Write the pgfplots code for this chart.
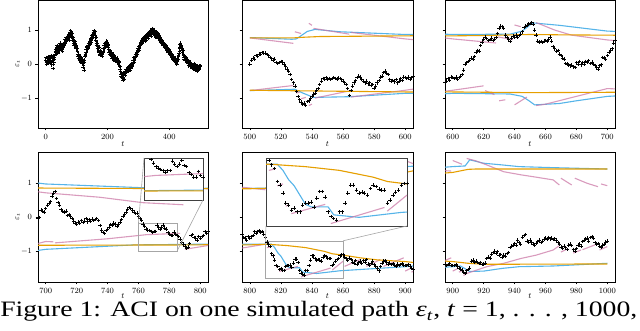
\documentclass[border=0pt]{standalone}
\usepackage{pgfplots}
\pgfplotsset{compat=1.18}
\usepackage{pgfplotstable}
\usepackage{fontspec}
\newfontfamily\capfont{Liberation Serif}
\definecolor{cor}{RGB}{230,159,0}
\definecolor{cbl}{RGB}{86,180,233}
\definecolor{cpk}{RGB}{204,121,167}

\pgfplotstableread[row sep=\\]{t e\\
0 0.12\\ 2 0.05\\ 4 0.18\\ 6 0.10\\ 8 0.02\\ 10 0.14\\ 12 0.08\\ 14 0.20\\ 16 0.12\\ 18 -0.02\\
20 0.10\\ 22 0.22\\ 24 -0.13\\ 26 0.05\\ 28 0.25\\ 30 0.30\\ 32 0.42\\ 34 0.35\\ 36 0.48\\ 38 0.40\\
40 0.52\\ 42 0.36\\ 44 0.55\\ 46 0.62\\ 48 0.50\\ 50 0.58\\ 52 0.45\\ 54 0.38\\ 56 0.52\\ 58 0.48\\
60 0.65\\ 62 0.72\\ 64 0.60\\ 66 0.78\\ 68 0.70\\ 70 0.82\\ 72 0.75\\ 74 0.88\\ 76 0.80\\ 78 0.92\\
80 0.98\\ 82 0.85\\ 84 0.78\\ 86 0.90\\ 88 0.70\\ 90 0.62\\ 92 0.55\\ 94 0.68\\ 96 0.50\\ 98 0.45\\
100 0.55\\ 102 0.38\\ 104 0.30\\ 106 0.18\\ 108 0.25\\ 110 0.10\\ 112 0.15\\ 114 0.05\\ 116 0.20\\ 118 0.08\\
120 -0.10\\ 122 0.02\\ 124 -0.17\\ 126 0.12\\ 128 0.30\\ 130 0.42\\ 132 0.35\\ 134 0.52\\ 136 0.45\\ 138 0.60\\
140 0.55\\ 142 0.68\\ 144 0.62\\ 146 0.75\\ 148 0.70\\ 150 0.85\\ 152 0.78\\ 154 0.92\\ 156 0.98\\ 158 0.88\\
160 0.80\\ 162 0.70\\ 164 0.62\\ 166 0.55\\ 168 0.45\\ 170 0.38\\ 172 0.50\\ 174 0.30\\ 176 0.25\\ 178 0.40\\
180 0.32\\ 182 0.22\\ 184 0.28\\ 186 0.45\\ 188 0.55\\ 190 0.48\\ 192 0.62\\ 194 0.58\\ 196 0.68\\ 198 0.55\\
200 0.62\\ 202 0.50\\ 204 0.42\\ 206 0.30\\ 208 0.38\\ 210 0.25\\ 212 0.32\\ 214 0.18\\ 216 0.28\\ 218 0.22\\
220 0.12\\ 222 0.25\\ 224 0.15\\ 226 0.20\\ 228 0.08\\ 230 0.18\\ 232 0.05\\ 234 0.12\\ 236 -0.02\\ 238 0.08\\
240 -0.15\\ 242 -0.22\\ 244 -0.35\\ 246 -0.28\\ 248 -0.42\\ 250 -0.47\\ 252 -0.38\\ 254 -0.30\\ 256 -0.20\\ 258 -0.32\\
260 -0.15\\ 262 -0.25\\ 264 -0.12\\ 266 -0.20\\ 268 -0.08\\ 270 -0.15\\ 272 -0.05\\ 274 -0.18\\ 276 -0.10\\ 278 0.02\\
280 -0.08\\ 282 0.05\\ 284 0.12\\ 286 0.20\\ 288 0.15\\ 290 0.28\\ 292 0.22\\ 294 0.35\\ 296 0.30\\ 298 0.38\\
300 0.45\\ 302 0.52\\ 304 0.48\\ 306 0.62\\ 308 0.58\\ 310 0.70\\ 312 0.65\\ 314 0.75\\ 316 0.68\\ 318 0.80\\
320 0.72\\ 322 0.78\\ 324 0.70\\ 326 0.82\\ 328 0.88\\ 330 0.80\\ 332 0.75\\ 334 0.85\\ 336 0.92\\ 338 0.88\\
340 0.95\\ 342 0.82\\ 344 1.05\\ 346 0.98\\ 348 0.90\\ 350 1.00\\ 352 0.85\\ 354 0.92\\ 356 0.78\\ 358 0.95\\
360 0.88\\ 362 0.80\\ 364 0.75\\ 366 0.85\\ 368 0.70\\ 370 0.78\\ 372 0.65\\ 374 0.72\\ 376 0.60\\ 378 0.68\\
380 0.55\\ 382 0.62\\ 384 0.50\\ 386 0.58\\ 388 0.45\\ 390 0.52\\ 392 0.40\\ 394 0.48\\ 396 0.35\\ 398 0.42\\
400 0.30\\ 402 0.38\\ 404 0.25\\ 406 0.32\\ 408 0.20\\ 410 0.28\\ 412 0.15\\ 414 0.22\\ 416 0.10\\ 418 0.18\\
420 0.05\\ 422 0.12\\ 424 0.00\\ 426 0.08\\ 428 0.15\\ 430 0.25\\ 432 0.38\\ 434 0.50\\ 436 0.62\\ 438 0.55\\
440 0.45\\ 442 0.35\\ 444 0.40\\ 446 0.25\\ 448 0.15\\ 450 0.20\\ 452 0.10\\ 454 0.18\\ 456 0.05\\ 458 0.12\\
460 0.02\\ 462 -0.05\\ 464 0.08\\ 466 -0.02\\ 468 0.05\\ 470 -0.08\\ 472 0.00\\ 474 -0.12\\ 476 -0.05\\ 478 -0.15\\
480 0.02\\ 482 -0.10\\ 484 -0.18\\ 486 -0.05\\ 488 -0.12\\ 490 -0.20\\ 492 -0.08\\ 494 -0.15\\ 496 -0.05\\ 498 -0.12\\
500 -0.08\\
}\epsA

\pgfplotstableread[row sep=\\]{t e\\
1 0.20\\ 3 0.00\\ 5 0.08\\ 7 0.22\\ 9 0.12\\ 11 0.04\\ 13 0.16\\ 15 0.06\\ 17 0.25\\ 19 0.05\\
21 0.18\\ 23 0.12\\ 25 0.00\\ 27 0.15\\ 29 0.20\\ 31 0.38\\ 33 0.28\\ 35 0.45\\ 37 0.55\\ 39 0.32\\
41 0.45\\ 43 0.48\\ 45 0.42\\ 47 0.55\\ 49 0.40\\ 51 0.50\\ 53 0.55\\ 55 0.45\\ 57 0.60\\ 59 0.55\\
61 0.58\\ 63 0.65\\ 65 0.70\\ 67 0.68\\ 69 0.80\\ 71 0.72\\ 73 0.85\\ 75 0.78\\ 77 0.70\\ 79 0.85\\
81 0.90\\ 83 0.95\\ 85 0.70\\ 87 0.80\\ 89 0.78\\ 91 0.70\\ 93 0.62\\ 95 0.58\\ 97 0.60\\ 99 0.52\\
101 0.45\\ 103 0.45\\ 105 0.22\\ 107 0.28\\ 109 0.15\\ 111 0.20\\ 113 0.08\\ 115 0.12\\ 117 0.02\\ 119 0.15\\
121 0.05\\ 123 -0.05\\ 125 0.05\\ 127 0.22\\ 129 0.25\\ 131 0.35\\ 133 0.48\\ 135 0.42\\ 137 0.55\\ 139 0.50\\
141 0.62\\ 143 0.58\\ 145 0.72\\ 147 0.65\\ 149 0.80\\ 151 0.75\\ 153 0.88\\ 155 0.85\\ 157 0.90\\ 159 0.95\\
161 0.85\\ 163 0.78\\ 165 0.55\\ 167 0.62\\ 169 0.52\\ 171 0.45\\ 173 0.35\\ 175 0.38\\ 177 0.32\\ 179 0.30\\
181 0.25\\ 183 0.30\\ 185 0.38\\ 187 0.35\\ 189 0.45\\ 191 0.55\\ 193 0.52\\ 195 0.65\\ 197 0.60\\ 199 0.65\\
201 0.55\\ 203 0.58\\ 205 0.35\\ 207 0.40\\ 209 0.30\\ 211 0.35\\ 213 0.22\\ 215 0.25\\ 217 0.18\\ 219 0.30\\
221 0.20\\ 223 0.18\\ 225 0.08\\ 227 0.12\\ 229 0.15\\ 231 0.10\\ 233 0.15\\ 235 0.02\\ 237 0.05\\ 239 -0.05\\
241 -0.08\\ 243 -0.30\\ 245 -0.25\\ 247 -0.38\\ 249 -0.35\\ 251 -0.40\\ 253 -0.45\\ 255 -0.25\\ 257 -0.28\\ 259 -0.22\\
261 -0.25\\ 263 -0.18\\ 265 -0.20\\ 267 -0.12\\ 269 -0.18\\ 271 -0.08\\ 273 -0.12\\ 275 -0.08\\ 277 -0.02\\ 279 -0.05\\
281 0.00\\ 283 0.10\\ 285 0.05\\ 287 0.12\\ 289 0.22\\ 291 0.20\\ 293 0.30\\ 295 0.28\\ 297 0.40\\ 299 0.45\\
301 0.40\\ 303 0.45\\ 305 0.55\\ 307 0.55\\ 309 0.65\\ 311 0.62\\ 313 0.72\\ 315 0.70\\ 317 0.78\\ 319 0.75\\
321 0.82\\ 323 0.68\\ 325 0.78\\ 327 0.75\\ 329 0.82\\ 331 0.90\\ 333 0.82\\ 335 0.95\\ 337 0.85\\ 339 0.98\\
341 0.88\\ 343 0.95\\ 345 0.95\\ 347 1.02\\ 349 0.98\\ 351 0.92\\ 353 0.95\\ 355 0.85\\ 357 0.88\\ 359 0.82\\
361 0.78\\ 363 0.88\\ 365 0.82\\ 367 0.75\\ 369 0.78\\ 371 0.68\\ 373 0.72\\ 375 0.62\\ 377 0.70\\ 379 0.58\\
381 0.65\\ 383 0.55\\ 385 0.58\\ 387 0.50\\ 389 0.55\\ 391 0.45\\ 393 0.48\\ 395 0.38\\ 397 0.45\\ 399 0.35\\
401 0.38\\ 403 0.28\\ 405 0.32\\ 407 0.22\\ 409 0.28\\ 411 0.18\\ 413 0.22\\ 415 0.12\\ 417 0.18\\ 419 0.08\\
421 0.12\\ 423 0.02\\ 425 0.08\\ 427 0.18\\ 429 0.22\\ 431 0.32\\ 433 0.45\\ 435 0.58\\ 437 0.52\\ 439 0.48\\
441 0.40\\ 443 0.45\\ 445 0.30\\ 447 0.20\\ 449 0.25\\ 451 0.12\\ 453 0.18\\ 455 0.08\\ 457 0.15\\ 459 0.05\\
461 0.10\\ 463 0.02\\ 465 -0.02\\ 467 0.06\\ 469 -0.05\\ 471 0.02\\ 473 -0.08\\ 475 -0.02\\ 477 -0.12\\ 479 -0.05\\
481 -0.08\\ 483 -0.02\\ 485 -0.10\\ 487 -0.15\\ 489 -0.05\\ 491 -0.10\\ 493 -0.18\\ 495 -0.08\\ 497 -0.14\\ 499 -0.05\\
}\epsAo

\pgfplotstableread[row sep=\\]{t e\\
500 0.00\\ 501 0.12\\ 502 0.18\\ 503 0.15\\ 504 0.25\\ 505 0.22\\ 506 0.30\\ 507 0.28\\ 508 0.34\\ 509 0.32\\
510 0.33\\ 511 0.28\\ 512 0.25\\ 513 0.20\\ 514 0.16\\ 515 0.12\\ 516 0.15\\ 517 0.05\\ 518 0.02\\ 519 0.04\\
520 0.08\\ 521 0.06\\ 522 0.00\\ 523 -0.08\\ 524 -0.15\\ 525 -0.22\\ 526 -0.30\\ 527 -0.45\\ 528 -0.55\\ 529 -0.65\\
530 -0.80\\ 531 -0.95\\ 532 -1.05\\ 533 -1.12\\ 534 -1.18\\ 535 -1.15\\ 536 -1.20\\ 537 -1.10\\ 538 -1.08\\ 539 -1.00\\
540 -0.95\\ 541 -0.88\\ 542 -0.85\\ 543 -0.78\\ 544 -0.72\\ 545 -0.60\\ 546 -0.50\\ 547 -0.42\\ 548 -0.45\\ 549 -0.40\\
550 -0.44\\ 551 -0.42\\ 552 -0.45\\ 553 -0.43\\ 554 -0.40\\ 555 -0.42\\ 556 -0.44\\ 557 -0.41\\ 558 -0.43\\ 559 -0.46\\
560 -0.50\\ 561 -0.55\\ 562 -0.60\\ 563 -0.72\\ 564 -0.93\\ 565 -0.78\\ 566 -0.65\\ 567 -0.55\\ 568 -0.48\\ 569 -0.40\\
570 -0.35\\ 571 -0.38\\ 572 -0.45\\ 573 -0.50\\ 574 -0.55\\ 575 -0.50\\ 576 -0.58\\ 577 -0.55\\ 578 -0.62\\ 579 -0.60\\
580 -0.70\\ 581 -0.65\\ 582 -0.55\\ 583 -0.48\\ 584 -0.38\\ 585 -0.35\\ 586 -0.25\\ 587 -0.20\\ 588 -0.28\\ 589 -0.30\\
590 -0.45\\ 591 -0.50\\ 592 -0.48\\ 593 -0.52\\ 594 -0.45\\ 595 -0.55\\ 596 -0.50\\ 597 -0.42\\ 598 -0.48\\ 599 -0.38\\
600 -0.40\\ 601 -0.42\\ 602 -0.38\\ 603 -0.44\\ 604 -0.40\\ 605 -0.35\\ 606 -0.30\\ 607 -0.18\\ 608 0.00\\ 609 0.05\\
610 0.08\\ 611 0.12\\ 612 0.18\\ 613 0.15\\ 614 0.22\\ 615 0.35\\ 616 0.40\\ 617 0.38\\ 618 0.55\\ 619 0.65\\
620 0.72\\ 621 0.80\\ 622 0.75\\ 623 0.70\\ 624 0.72\\ 625 0.76\\ 626 0.70\\ 627 0.74\\ 628 0.78\\ 629 0.90\\
630 1.05\\ 631 1.12\\ 632 1.10\\ 633 1.05\\ 634 0.85\\ 635 0.78\\ 636 0.72\\ 637 0.66\\ 638 0.75\\ 639 0.82\\
640 0.80\\ 641 0.85\\ 642 0.78\\ 643 0.84\\ 644 0.88\\ 645 0.95\\ 646 1.08\\ 647 1.12\\ 648 1.15\\ 649 1.18\\
650 1.20\\ 651 1.22\\ 652 1.18\\ 653 1.00\\ 654 0.85\\ 655 0.68\\ 656 0.65\\ 657 0.66\\ 658 0.63\\ 659 0.68\\
660 0.70\\ 661 0.66\\ 662 0.72\\ 663 0.80\\ 664 0.68\\ 665 0.52\\ 666 0.45\\ 667 0.38\\ 668 0.40\\ 669 0.30\\
670 0.25\\ 671 0.18\\ 672 0.15\\ 673 0.02\\ 674 0.00\\ 675 -0.02\\ 676 -0.05\\ 677 -0.03\\ 678 -0.08\\ 679 -0.10\\
680 0.05\\ 681 0.00\\ 682 0.08\\ 683 -0.02\\ 684 0.05\\ 685 0.00\\ 686 0.08\\ 687 0.04\\ 688 0.10\\ 689 0.02\\
690 0.06\\ 691 0.00\\ 692 -0.04\\ 693 -0.10\\ 694 -0.15\\ 695 -0.05\\ 696 -0.02\\ 697 0.20\\ 698 0.18\\ 699 0.15\\
700 0.25\\ 701 0.35\\ 702 0.40\\ 703 0.45\\ 704 0.62\\ 705 0.70\\ 706 0.75\\ 707 0.55\\ 708 0.42\\ 709 0.35\\
710 0.22\\ 711 0.18\\ 712 0.15\\ 713 0.18\\ 714 0.05\\ 715 0.08\\ 716 0.02\\ 717 -0.04\\ 718 -0.12\\ 719 -0.18\\
720 -0.20\\ 721 -0.15\\ 722 -0.18\\ 723 -0.10\\ 724 -0.16\\ 725 -0.12\\ 726 -0.05\\ 727 -0.14\\ 728 -0.08\\ 729 -0.12\\
730 -0.06\\ 731 -0.10\\ 732 -0.08\\ 733 -0.05\\ 734 -0.10\\ 735 -0.25\\ 736 -0.38\\ 737 -0.45\\ 738 -0.48\\ 739 -0.40\\
740 -0.35\\ 741 -0.30\\ 742 -0.22\\ 743 -0.25\\ 744 -0.18\\ 745 -0.20\\ 746 -0.28\\ 747 -0.22\\ 748 -0.15\\ 749 -0.08\\
750 0.02\\ 751 0.08\\ 752 0.15\\ 753 0.22\\ 754 0.28\\ 755 0.25\\ 756 0.20\\ 757 0.15\\ 758 0.10\\ 759 0.12\\
760 0.02\\ 761 -0.05\\ 762 -0.10\\ 763 -0.21\\ 764 -0.28\\ 765 -0.35\\ 766 -0.38\\ 767 -0.40\\ 768 -0.42\\ 769 -0.45\\
770 -0.43\\ 771 -0.42\\ 772 -0.24\\ 773 -0.30\\ 774 -0.35\\ 775 -0.30\\ 776 -0.23\\ 777 -0.33\\ 778 -0.35\\ 779 -0.46\\
780 -0.50\\ 781 -0.55\\ 782 -0.55\\ 783 -0.44\\ 784 -0.52\\ 785 -0.55\\ 786 -0.58\\ 787 -0.65\\ 788 -0.75\\ 789 -0.80\\
790 -0.85\\ 791 -0.92\\ 792 -0.88\\ 793 -0.78\\ 794 -0.55\\ 795 -0.52\\ 796 -0.60\\ 797 -0.62\\ 798 -0.68\\ 799 -0.58\\
800 -0.62\\ 801 -0.58\\ 802 -0.55\\ 803 -0.43\\ 804 -0.48\\ 805 -0.42\\ 806 -0.40\\ 807 -0.44\\ 808 -0.42\\ 809 -0.50\\
810 -0.60\\ 811 -0.74\\ 812 -0.81\\ 813 -0.87\\ 814 -1.08\\ 815 -1.14\\ 816 -1.27\\ 817 -1.43\\ 818 -1.46\\ 819 -1.54\\
820 -1.51\\ 821 -1.57\\ 822 -1.57\\ 823 -1.46\\ 824 -1.43\\ 825 -1.43\\ 826 -1.41\\ 827 -1.49\\ 828 -1.35\\ 829 -1.24\\
830 -1.24\\ 831 -1.33\\ 832 -1.57\\ 833 -1.65\\ 834 -1.68\\ 835 -1.70\\ 836 -1.57\\ 837 -1.57\\ 838 -1.43\\ 839 -1.27\\
840 -1.14\\ 841 -1.14\\ 842 -1.22\\ 843 -1.27\\ 844 -1.25\\ 845 -1.27\\ 846 -1.30\\ 847 -1.19\\ 848 -1.14\\ 849 -1.16\\
850 -1.20\\ 851 -1.22\\ 852 -1.22\\ 853 -1.43\\ 854 -1.38\\ 855 -1.30\\ 856 -1.25\\ 857 -1.22\\ 858 -1.14\\ 859 -1.11\\
860 -1.11\\ 861 -1.18\\ 862 -1.22\\ 863 -1.28\\ 864 -1.20\\ 865 -1.25\\ 866 -1.32\\ 867 -1.35\\ 868 -1.28\\ 869 -1.38\\
870 -1.33\\ 871 -1.30\\ 872 -1.35\\ 873 -1.28\\ 874 -1.32\\ 875 -1.25\\ 876 -1.38\\ 877 -1.42\\ 878 -1.35\\ 879 -1.30\\
880 -1.40\\ 881 -1.45\\ 882 -1.50\\ 883 -1.58\\ 884 -1.45\\ 885 -1.35\\ 886 -1.30\\ 887 -1.28\\ 888 -1.32\\ 889 -1.38\\
890 -1.35\\ 891 -1.40\\ 892 -1.36\\ 893 -1.42\\ 894 -1.45\\ 895 -1.38\\ 896 -1.42\\ 897 -1.40\\ 898 -1.36\\ 899 -1.42\\
900 -1.43\\ 901 -1.42\\ 902 -1.40\\ 903 -1.44\\ 904 -1.50\\ 905 -1.53\\ 906 -1.56\\ 907 -1.62\\ 908 -1.66\\ 909 -1.58\\
910 -1.55\\ 911 -1.50\\ 912 -1.30\\ 913 -1.27\\ 914 -1.32\\ 915 -1.30\\ 916 -1.34\\ 917 -1.36\\ 918 -1.33\\ 919 -1.40\\
920 -1.38\\ 921 -1.35\\ 922 -1.22\\ 923 -1.18\\ 924 -1.20\\ 925 -1.10\\ 926 -1.05\\ 927 -1.00\\ 928 -1.08\\ 929 -1.02\\
930 -1.12\\ 931 -1.10\\ 932 -1.18\\ 933 -1.12\\ 934 -1.15\\ 935 -1.08\\ 936 -1.05\\ 937 -0.90\\ 938 -0.85\\ 939 -0.82\\
940 -0.78\\ 941 -0.82\\ 942 -0.68\\ 943 -0.75\\ 944 -0.80\\ 945 -0.60\\ 946 -0.55\\ 947 -0.52\\ 948 -0.70\\ 949 -0.75\\
950 -0.68\\ 951 -0.73\\ 952 -0.80\\ 953 -0.82\\ 954 -0.78\\ 955 -0.72\\ 956 -0.68\\ 957 -0.75\\ 958 -0.72\\ 959 -0.65\\
960 -0.62\\ 961 -0.66\\ 962 -0.60\\ 963 -0.64\\ 964 -0.62\\ 965 -0.66\\ 966 -0.64\\ 967 -0.68\\ 968 -0.75\\ 969 -0.80\\
970 -0.88\\ 971 -0.92\\ 972 -0.85\\ 973 -0.90\\ 974 -0.96\\ 975 -0.82\\ 976 -0.80\\ 977 -0.84\\ 978 -0.95\\ 979 -1.00\\
980 -0.92\\ 981 -0.82\\ 982 -0.80\\ 983 -0.85\\ 984 -0.72\\ 985 -0.68\\ 986 -0.65\\ 987 -0.62\\ 988 -0.70\\ 989 -0.60\\
990 -0.58\\ 991 -0.62\\ 992 -0.75\\ 993 -0.80\\ 994 -0.78\\ 995 -0.85\\ 996 -0.90\\ 997 -0.82\\ 998 -0.80\\ 999 -0.74\\
1000 -0.70\\
}\epsB

% orange (upper/lower)
\pgfplotstableread[row sep=\\]{t y\\
500 0.77\\ 528 0.77\\ 535 0.79\\ 545 0.81\\ 600 0.83\\ 620 0.84\\ 640 0.86\\ 650 0.87\\ 670 0.86\\ 700 0.85\\
800 0.83\\ 815 0.85\\ 830 0.95\\ 850 1.10\\ 870 1.20\\ 900 1.31\\ 910 1.40\\ 915 1.41\\ 1000 1.41\\
}\OU
\pgfplotstableread[row sep=\\]{t y\\
500 -0.77\\ 600 -0.82\\ 650 -0.84\\ 700 -0.83\\ 800 -0.82\\ 811 -0.80\\ 824 -0.84\\ 836 -0.90\\ 848 -1.01\\
853 -1.08\\ 860 -1.12\\ 871 -1.20\\ 882 -1.26\\ 900 -1.31\\ 910 -1.36\\ 920 -1.39\\ 1000 -1.38\\
}\OL
% blue
\pgfplotstableread[row sep=\\]{t y\\
500 0.78\\ 527 0.73\\ 530 0.74\\ 537 0.96\\ 542 1.02\\ 558 0.95\\ 600 0.87\\ 637 0.88\\ 645 0.97\\ 650 1.15\\
652 1.21\\ 669 1.14\\ 700 0.97\\ 763 0.86\\ 800 0.84\\ 810 0.85\\ 830 1.10\\ 860 1.35\\ 900 1.48\\ 908 1.50\\
911 1.68\\ 920 1.58\\ 932 1.53\\ 943 1.48\\ 965 1.45\\ 1000 1.41\\
}\BU
\pgfplotstableread[row sep=\\]{t y\\
500 -0.78\\ 529 -0.74\\ 534 -0.85\\ 541 -0.98\\ 564 -0.96\\ 600 -0.86\\ 637 -0.88\\ 645 -0.95\\ 650 -1.10\\
653 -1.20\\ 669 -1.16\\ 680 -1.08\\ 700 -0.95\\ 757 -0.82\\ 800 -0.80\\ 814 -0.80\\ 816 -0.90\\ 818 -1.05\\
820 -1.15\\ 822 -1.30\\ 824 -1.45\\ 826 -1.49\\ 832 -1.49\\ 834 -1.62\\ 843 -1.66\\ 858 -1.58\\ 900 -1.46\\
905 -1.44\\ 911 -1.60\\ 920 -1.59\\ 932 -1.51\\ 943 -1.46\\ 965 -1.44\\ 1000 -1.36\\
}\BL
% pink
\pgfplotstableread[row sep=\\]{t y\\
500 0.77\\ 528 0.61\\ 528.5 nan\\ 529 0.95\\ 533 0.90\\ 533.5 nan\\ 538 1.20\\ 540 1.14\\ 540.5 nan\\
541 1.05\\ 564 0.88\\ 564.5 nan\\ 565 0.93\\ 600 0.74\\ 628 0.62\\ 628.5 nan\\ 629 0.80\\ 639 0.72\\ 639.5 nan\\
640 1.15\\ 644 1.10\\ 644.5 nan\\ 654 1.22\\ 666 1.00\\ 677 0.85\\ 700 0.71\\ 735 0.58\\ 763 0.42\\ 789 0.36\\
789.5 nan\\ 790 0.90\\ 810 0.80\\ 810.5 nan\\ 811 1.00\\ 832 0.90\\ 832.5 nan\\ 833 1.30\\ 860 1.20\\ 860.5 nan\\
861 1.45\\ 899 1.35\\ 899.5 nan\\ 900 1.66\\ 906 1.55\\ 906.5 nan\\ 909 1.72\\ 915 1.65\\ 922 1.53\\ 933 1.33\\
944 1.24\\ 954 1.17\\ 965 1.09\\ 969 0.94\\ 969.5 nan\\ 970 1.14\\ 977 0.94\\ 977.5 nan\\ 979 1.14\\ 987 0.99\\
994 0.89\\ 994.5 nan\\ 996 0.97\\ 1000 0.92\\
}\PU
\pgfplotstableread[row sep=\\]{t y\\
500 -0.78\\ 528 -0.63\\ 528.5 nan\\ 530 -0.85\\ 532 -0.83\\ 532.5 nan\\ 533 -1.02\\ 536 -0.98\\ 536.5 nan\\
538 -1.22\\ 540 -1.18\\ 540.5 nan\\ 542 -1.00\\ 564 -0.79\\ 564.5 nan\\ 565 -0.97\\ 600 -0.77\\ 620 -0.64\\
620.5 nan\\ 621 -0.78\\ 627 -0.90\\ 627.5 nan\\ 630 -1.08\\ 634 -1.05\\ 634.5 nan\\ 640 -1.20\\ 648 -0.97\\
648.5 nan\\ 654 -1.22\\ 660 -1.18\\ 680 -0.95\\ 700 -0.72\\ 705 -0.73\\ 705.5 nan\\ 706 -0.76\\ 740 -0.64\\
765 -0.52\\ 787 -0.48\\ 787.5 nan\\ 790 -0.95\\ 810 -0.80\\ 810.5 nan\\ 811 -0.90\\ 813 -0.88\\ 813.5 nan\\
814 -1.15\\ 816 -1.12\\ 816.5 nan\\ 817 -1.48\\ 818 -1.46\\ 818.5 nan\\ 819 -1.60\\ 831 -1.45\\ 831.5 nan\\
833 -1.76\\ 852 -1.50\\ 852.5 nan\\ 853 -1.56\\ 860 -1.30\\ 860.5 nan\\ 861 -1.45\\ 871 -1.25\\ 871.5 nan\\
875 -1.45\\ 884 -1.25\\ 884.5 nan\\ 886 -1.45\\ 899 -1.20\\ 899.5 nan\\ 900 -1.59\\ 903 -1.52\\ 903.5 nan\\
904 -1.62\\ 906 -1.58\\ 906.5 nan\\ 907 -1.72\\ 909 -1.66\\ 922 -1.46\\ 933 -1.36\\ 944 -1.22\\ 954 -1.12\\
965 -0.97\\ 969 -0.84\\ 969.5 nan\\ 970 -1.03\\ 974 -0.94\\ 974.5 nan\\ 978 -1.06\\ 983 -0.97\\ 983.5 nan\\
984 -0.96\\ 992 -0.82\\ 992.5 nan\\ 995 -0.97\\ 1000 -0.87\\
}\PL

\pgfplotsset{
  base/.style={scale only axis, height=130pt, ymin=-1.91, ymax=1.91,
    ytick={-1,0,1}, tick align=outside, xtick pos=left, ytick pos=left,
    major tick length=2.5pt, tick style={black, line width=0.5pt},
    axis line style={line width=0.6pt},
    tick label style={font=\fontsize{7.8}{9}\selectfont},
    label style={font=\fontsize{7.8}{9}\selectfont},
    /pgf/number format/1000 sep={},
    xlabel={$t$}, xlabel style={at={(rel axis cs:0.5,0)}, anchor=north, inner sep=0pt, yshift=-11pt},
    ylabel shift=-6pt,
    unbounded coords=jump},
  toprow/.style={height=127.5pt, ymin=-1.88, ymax=1.87, xlabel style={yshift=-2.5pt}},
  noyl/.style={yticklabels={}},
  pts/.style={only marks, mark=+, mark size=1.75pt, black, mark options={line width=0.6pt}},
  lo/.style={cor, line width=1.1pt},
  lb/.style={cbl, line width=1.1pt},
  lp/.style={cpk, line width=1.1pt, opacity=0.75},
  ins/.style={scale only axis, ticks=none, axis line style={line width=0.8pt, black!75},
    axis background/.style={fill=white}, unbounded coords=jump},
}
\newcommand{\bands}{%
  \addplot[lb] table[x=t,y=y]{\BU};
  \addplot[lb] table[x=t,y=y]{\BL};
  \addplot[lp] table[x=t,y=y]{\PU};
  \addplot[lp] table[x=t,y=y]{\PL};
  \addplot[lo] table[x=t,y=y]{\OU};
  \addplot[lo] table[x=t,y=y]{\OL};
  \addplot[pts] table[x=t,y=e]{\epsB};
}

\begin{document}
\begin{tikzpicture}[x=1pt,y=1pt]
\useasboundingbox (0,0) rectangle (640,331);
% top row
\begin{axis}[base, toprow, at={(38pt,203pt)}, width=170pt, xmin=-25, xmax=525, xtick={0,200,400}, ylabel={$\varepsilon_t$}]
  \addplot[pts] table[x=t,y=e]{\epsA};
  \addplot[pts] table[x=t,y=e]{\epsAo};
\end{axis}
\begin{axis}[base, toprow, noyl, at={(242pt,203pt)}, width=171pt, xmin=495, xmax=605, xtick={500,520,...,600}]
  \bands
\end{axis}
\begin{axis}[base, toprow, noyl, at={(445pt,203pt)}, width=170pt, xmin=595, xmax=705, xtick={600,620,...,700}]
  \bands
\end{axis}
% bottom row
\begin{axis}[base, at={(38pt,49pt)}, width=170pt, xmin=695, xmax=805, xtick={700,720,...,800}, ylabel={$\varepsilon_t$}]
  \bands
  \draw[black!35, line width=0.6pt] (axis cs:760,-1.0) rectangle (axis cs:785,-0.18);
  \coordinate (rAul) at (axis cs:760,-0.18);
  \coordinate (rAlr) at (axis cs:785,-1.0);
\end{axis}
\begin{axis}[base, noyl, at={(242pt,49pt)}, width=171pt, xmin=795, xmax=905, xtick={800,820,...,900}]
  \bands
  \draw[black!35, line width=0.6pt] (axis cs:810,-1.8) rectangle (axis cs:860,-0.7);
  \coordinate (rBul) at (axis cs:810,-0.7);
  \coordinate (rBur) at (axis cs:860,-0.7);
\end{axis}
\begin{axis}[base, noyl, at={(445pt,49pt)}, width=170pt, xmin=895, xmax=1005, xtick={900,920,...,1000}]
  \bands
\end{axis}
% insets
\begin{axis}[ins, at={(144pt,131pt)}, width=59pt, height=42pt, xmin=760, xmax=785, ymin=-1.0, ymax=-0.18]
  \bands
  \coordinate (iAul) at (rel axis cs:0,1);
  \coordinate (iAlr) at (rel axis cs:1,0);
\end{axis}
\begin{axis}[ins, at={(266pt,105pt)}, width=141pt, height=68pt, xmin=810, xmax=860, ymin=-1.8, ymax=-0.7]
  \bands
  \coordinate (iBll) at (rel axis cs:0,0);
  \coordinate (iBlr) at (rel axis cs:1,0);
\end{axis}
\draw[black!35, line width=0.6pt] (rAul) -- (iAul) (rAlr) -- (iAlr);
\draw[black!35, line width=0.6pt] (rBul) -- (iBll) (rBur) -- (iBlr);
% caption
\node[anchor=base west, inner sep=0pt, xscale=1.26] at (0,14) {\capfont\fontsize{22}{24}\selectfont Figure 1: ACI on one simulated path \textit{ε}\textsubscript{\textit{t}}, \textit{t} = 1, . . . , 1000,};
\end{tikzpicture}
\end{document}
